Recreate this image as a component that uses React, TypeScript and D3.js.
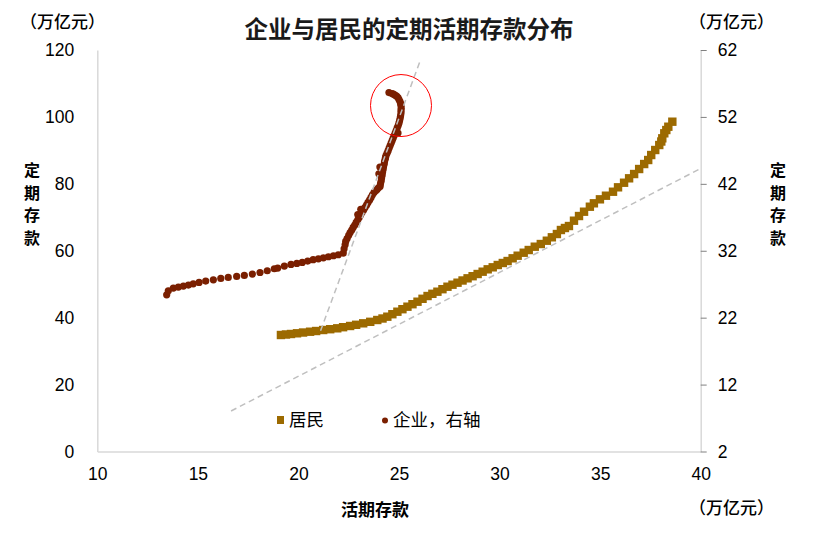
import React, { useEffect, useRef } from 'react';
import * as d3 from 'd3';

// 居民: 活期存款 (x) vs 定期存款 (left axis), 万亿元
const householdPoints: [number, number][] = [
  [19.13, 34.82], [19.38, 34.97], [19.63, 35.12], [19.93, 35.33], [20.23, 35.56],
  [20.58, 35.8], [20.88, 36.01], [21.23, 36.31], [21.58, 36.55], [21.93, 36.82],
  [22.22, 37.15], [22.57, 37.51], [22.87, 37.87], [23.22, 38.31], [23.57, 38.76],
  [23.92, 39.3], [24.18, 39.75], [24.42, 40.29], [24.67, 41.03], [24.92, 41.78],
  [25.17, 42.53], [25.42, 43.28], [25.67, 44.02], [25.92, 44.77], [26.17, 45.64],
  [26.42, 46.47], [26.66, 47.13], [26.91, 47.76], [27.16, 48.51], [27.41, 49.25],
  [27.66, 49.85], [27.91, 50.45], [28.16, 51.11], [28.41, 51.76], [28.66, 52.39],
  [28.91, 53.05], [29.16, 53.74], [29.41, 54.45], [29.66, 55.05], [29.91, 55.74],
  [30.16, 56.34], [30.4, 56.93], [30.65, 57.74], [30.9, 58.52], [31.2, 59.41],
  [31.45, 60.22], [31.75, 61.21], [32.05, 62.01], [32.35, 63.0], [32.6, 64.02],
  [32.85, 65.0], [33.05, 66.2], [33.25, 66.8], [33.45, 67.39], [33.7, 68.98],
  [33.95, 70.38], [34.2, 71.67], [34.49, 73.16], [34.69, 74.18], [34.99, 75.37],
  [35.29, 76.45], [35.64, 77.64], [35.89, 78.96], [36.19, 80.33], [36.44, 81.65],
  [36.69, 82.93], [36.94, 84.43], [37.19, 85.92], [37.39, 87.12], [37.54, 88.61],
  [37.74, 90.11], [37.94, 91.6], [38.04, 92.65], [38.09, 93.6], [38.19, 95.1],
  [38.29, 96.08], [38.39, 97.07], [38.59, 98.57],
];

// 企业: 活期存款 (x) vs 定期存款 (right axis), 万亿元
const enterprisePoints: [number, number][] = [
  [13.45, 25.42], [13.53, 26.02], [13.78, 26.42], [14.03, 26.57], [14.28, 26.72],
  [14.53, 26.87], [14.77, 27.06], [15.06, 27.26], [15.39, 27.47], [15.77, 27.66],
  [16.14, 27.86], [16.51, 28.01], [16.93, 28.16], [17.31, 28.31], [17.71, 28.52],
  [18.09, 28.75], [18.45, 29.01], [18.8, 29.31], [18.97, 29.41], [19.3, 29.71],
  [19.63, 29.95], [19.92, 30.1], [20.19, 30.25], [20.46, 30.46], [20.73, 30.66],
  [20.99, 30.8], [21.24, 30.95], [21.49, 31.1], [21.74, 31.25], [21.98, 31.4],
  [22.23, 31.66], [22.27, 32.3], [22.32, 32.9], [22.35, 33.4], [22.42, 33.83],
  [22.5, 34.3], [22.57, 34.73], [22.65, 35.1], [22.72, 35.48], [22.8, 35.85],
  [22.87, 36.23], [22.95, 36.6], [23.02, 36.97], [22.95, 37.4], [23.09, 37.35],
  [23.16, 37.72], [23.1, 38.2], [23.24, 38.1], [23.31, 38.47], [23.39, 38.85],
  [23.46, 39.22], [23.54, 39.6], [23.61, 39.97], [23.68, 40.35], [23.76, 40.72],
  [23.84, 40.95], [23.91, 41.17], [23.98, 41.4], [24.06, 41.62], [24.08, 42.0],
  [24.11, 42.37], [24.13, 42.8], [24.16, 43.26], [24.0, 43.5], [24.18, 43.7],
  [24.21, 44.16], [24.05, 44.5], [24.23, 44.55], [24.26, 44.91], [24.28, 45.3],
  [24.31, 45.66], [24.33, 45.95], [24.36, 46.26], [24.41, 46.6], [24.46, 46.96],
  [24.51, 47.35], [24.56, 47.71], [24.61, 48.1], [24.66, 48.46], [24.71, 48.85],
  [24.76, 49.21], [24.81, 49.6], [24.95, 49.6], [24.86, 49.96], [24.91, 50.35],
  [24.96, 50.71], [25.0, 51.1], [25.03, 51.45], [25.06, 51.85], [25.08, 52.2],
  [25.1, 52.6], [25.1, 52.95], [25.11, 53.3], [25.1, 53.7], [25.08, 54.0],
  [25.05, 54.3], [25.0, 54.6], [24.95, 54.9], [24.88, 55.1], [24.8, 55.27],
  [24.72, 55.4], [24.65, 55.49], [24.5, 55.64],
];

// dashed trend guides: [x, y] ends
const householdTrend: [number, number][] = [[16.65, 12.1], [40, 84.58]];
const enterpriseTrend: [number, number][] = [[21.1, 20.03], [26.02, 60.13]];
const highlight = { x: 25.1, y: 53.7 };

const xTicks = [10, 15, 20, 25, 30, 35, 40];
const leftTicks = [0, 20, 40, 60, 80, 100, 120];
const rightTicks = [2, 12, 22, 32, 42, 52, 62];

const householdColor = '#9c6a00';
const enterpriseColor = '#7a1f00';
const FONT = '"Liberation Sans", Arial, "Noto Sans CJK SC", sans-serif';
const CJK = '"Noto Sans CJK SC", "Liberation Sans", sans-serif';

export default function App() {
  const svgRef = useRef<SVGSVGElement>(null);
  const width = 821;
  const height = 535;

  useEffect(() => {
    if (!svgRef.current) return;
    const svg = d3.select(svgRef.current);
    svg.selectAll('*').remove();

    const x = d3.scaleLinear().domain([10, 40]).range([97.3, 700.7]);
    const yL = d3.scaleLinear().domain([0, 120]).range([451.5, 50]);
    const yR = d3.scaleLinear().domain([2, 62]).range([451.5, 50]);

    // axes
    const left = svg.append('g')
      .attr('transform', `translate(${x(10)},0)`)
      .call(d3.axisLeft(yL).tickValues(leftTicks).tickSize(0).tickSizeOuter(0).tickPadding(23));
    const bottom = svg.append('g')
      .attr('transform', `translate(0,${yL(0)})`)
      .call(d3.axisBottom(x).tickValues(xTicks).tickSize(0).tickSizeOuter(0).tickPadding(16));
    const right = svg.append('g')
      .attr('transform', `translate(${x(40)},0)`)
      .call(d3.axisRight(yR).tickValues(rightTicks).tickSize(6).tickSizeOuter(0).tickPadding(11));

    [left, bottom, right].forEach(a => {
      a.select('.domain').attr('stroke', '#d9d9d9').attr('stroke-width', 1.5);
      a.selectAll('text')
        .attr('fill', '#000')
        .style('font-family', FONT)
        .style('font-size', '17.5px');
    });
    right.selectAll('.tick line').attr('stroke', '#808080').attr('stroke-width', 1);

    // series
    svg.append('g')
      .selectAll('rect')
      .data(householdPoints)
      .enter().append('rect')
      .attr('x', d => x(d[0]) - 4.2)
      .attr('y', d => yL(d[1]) - 4.2)
      .attr('width', 8.4)
      .attr('height', 8.4)
      .attr('fill', householdColor);

    svg.append('g')
      .selectAll('circle')
      .data(enterprisePoints)
      .enter().append('circle')
      .attr('cx', d => x(d[0]))
      .attr('cy', d => yR(d[1]))
      .attr('r', 3.6)
      .attr('fill', enterpriseColor);

    // dashed guides
    const lineL = d3.line<[number, number]>().x(d => x(d[0])).y(d => yL(d[1]));
    const lineR = d3.line<[number, number]>().x(d => x(d[0])).y(d => yR(d[1]));
    svg.append('path')
      .attr('d', lineL(householdTrend))
      .attr('fill', 'none')
      .attr('stroke', '#bfbfbf')
      .attr('stroke-width', 1.5)
      .attr('stroke-dasharray', '6,4');
    svg.append('path')
      .attr('d', lineR(enterpriseTrend))
      .attr('fill', 'none')
      .attr('stroke', '#bfbfbf')
      .attr('stroke-width', 1.5)
      .attr('stroke-dasharray', '6,4');

    // red highlight circle
    svg.append('ellipse')
      .attr('cx', x(highlight.x))
      .attr('cy', yR(highlight.y))
      .attr('rx', 30.5)
      .attr('ry', 31)
      .attr('fill', 'none')
      .attr('stroke', '#ff0000')
      .attr('stroke-width', 1);

    // legend
    svg.append('rect')
      .attr('x', 277).attr('y', 416).attr('width', 7).attr('height', 8)
      .attr('fill', householdColor);
    svg.append('text')
      .attr('x', 289).attr('y', 426)
      .style('font-family', CJK).style('font-size', '17.5px')
      .text('居民');
    svg.append('circle')
      .attr('cx', 385).attr('cy', 420.5).attr('r', 3)
      .attr('fill', enterpriseColor);
    svg.append('text')
      .attr('x', 393).attr('y', 426)
      .style('font-family', CJK).style('font-size', '17.5px')
      .text('企业，右轴');

    // titles
    svg.append('text')
      .attr('x', 409).attr('y', 38)
      .attr('text-anchor', 'middle')
      .style('font-family', CJK).style('font-size', '23.5px').style('font-weight', 'bold')
      .attr('fill', '#1a1a1a')
      .text('企业与居民的定期活期存款分布');

    const unit = (ux: number, uy: number) =>
      svg.append('text')
        .attr('x', ux).attr('y', uy)
        .style('font-family', CJK).style('font-size', '17px').style('font-weight', 500)
        .text('（万亿元）');
    unit(20, 28);
    unit(689, 28);
    unit(689, 514);

    const vertical = (vx: number) => {
      const t = svg.append('text')
        .attr('text-anchor', 'middle')
        .style('font-family', CJK).style('font-size', '16px').style('font-weight', 'bold');
      '定期存款'.split('').forEach((ch, i) => {
        t.append('tspan').attr('x', vx).attr('y', 176 + i * 22.5).text(ch);
      });
    };
    vertical(32);
    vertical(778);

    svg.append('text')
      .attr('x', 375).attr('y', 516)
      .attr('text-anchor', 'middle')
      .style('font-family', CJK).style('font-size', '17px').style('font-weight', 'bold')
      .text('活期存款');
  }, []);

  return (
    <svg
      ref={svgRef}
      width={width}
      height={height}
      style={{ position: 'absolute', left: 0, top: 0, background: '#fff' }}
    />
  );
}
